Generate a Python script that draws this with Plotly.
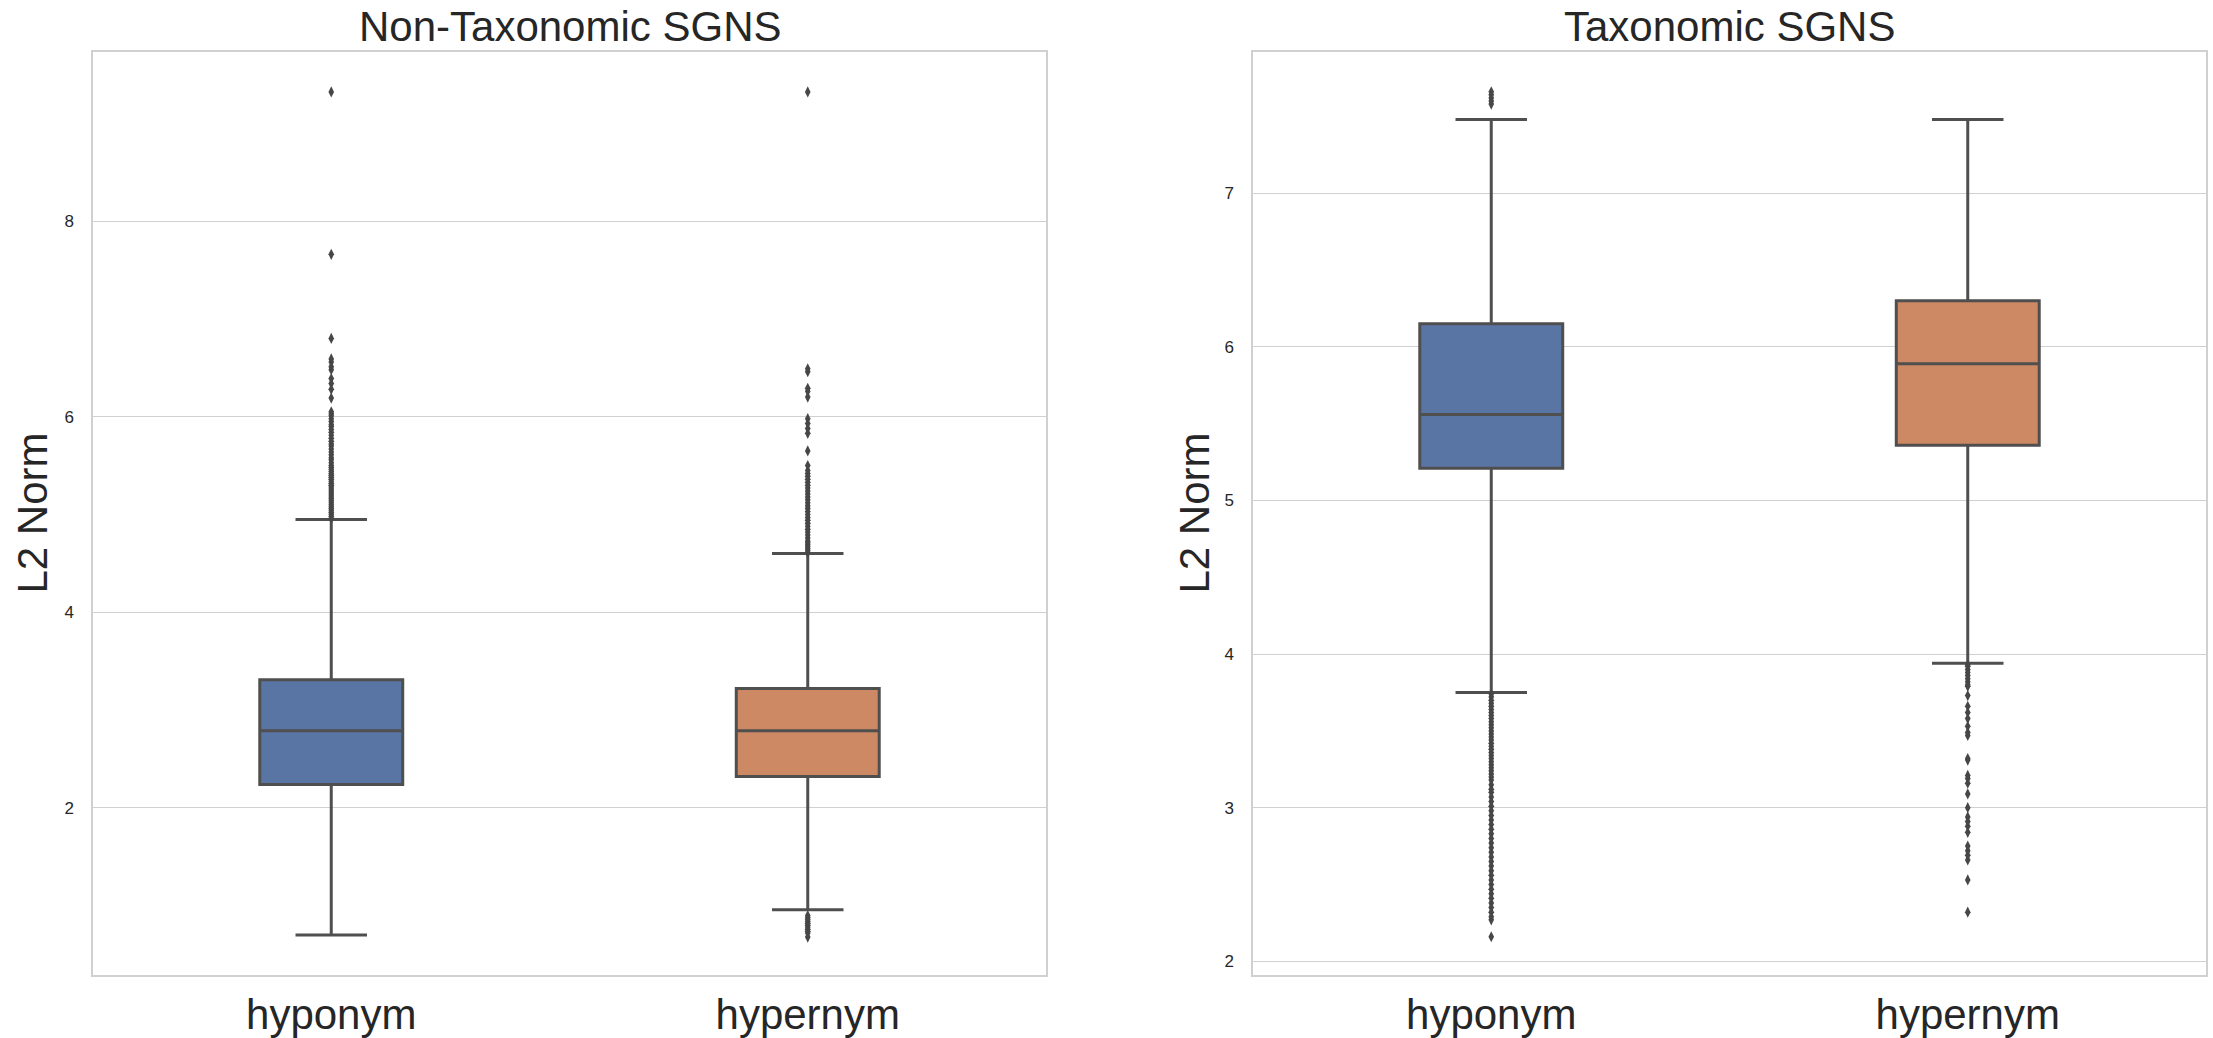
import plotly.graph_objects as go

# ---------------- data ----------------
categories = ["hyponym", "hypernym"]
panel_titles = ["Non-Taxonomic SGNS", "Taxonomic SGNS"]
y_label = "L2 Norm"

# Non-Taxonomic SGNS box statistics [hyponym, hypernym]
nt_q1 = [2.24, 2.32]
nt_median = [2.79, 2.79]
nt_q3 = [3.31, 3.22]
nt_lower = [0.70, 0.96]
nt_upper = [4.95, 4.60]

# Taxonomic SGNS box statistics [hyponym, hypernym]
tx_q1 = [5.21, 5.36]
tx_median = [5.56, 5.89]
tx_q3 = [6.15, 6.30]
tx_lower = [3.75, 3.94]
tx_upper = [7.48, 7.48]

# outliers (fliers)
nt_hypo_out = [9.32, 7.66, 6.80, 6.59, 6.56, 6.51, 6.48, 6.39, 6.34, 6.28, 6.19,
               6.05, 6.03, 6.01, 5.98, 5.95, 5.92, 5.90, 5.87, 5.84, 5.81, 5.78,
               5.75, 5.72, 5.70, 5.67, 5.64, 5.61, 5.58, 5.56, 5.53, 5.50, 5.48,
               5.46, 5.44, 5.42, 5.40, 5.38, 5.36, 5.34, 5.32, 5.30, 5.28, 5.26,
               5.24, 5.22, 5.20, 5.18, 5.16, 5.14, 5.12, 5.10, 5.08, 5.06, 5.04,
               5.02, 5.00, 4.98, 4.96]
nt_hyper_out = [9.32, 6.49, 6.46, 6.29, 6.26, 6.20, 5.98, 5.93, 5.88, 5.83, 5.65,
                5.50, 5.45, 5.42, 5.39, 5.36, 5.33, 5.30, 5.27, 5.24, 5.21, 5.18,
                5.15, 5.12, 5.09, 5.06, 5.03, 5.00, 4.97, 4.94, 4.91, 4.88, 4.85,
                4.82, 4.79, 4.76, 4.73, 4.71, 4.69, 4.67, 4.65, 4.63, 4.61,
                0.90, 0.88, 0.86, 0.84, 0.82, 0.80, 0.78, 0.76, 0.74, 0.72, 0.68]
tx_hypo_out = [7.58, 7.60, 7.62, 7.64, 7.66,
               3.74, 3.72, 3.70, 3.68, 3.66, 3.64, 3.62, 3.60, 3.58, 3.56, 3.54,
               3.52, 3.50, 3.48, 3.46, 3.44, 3.42, 3.40, 3.38, 3.36, 3.34, 3.32,
               3.30, 3.28, 3.26, 3.24, 3.22, 3.20, 3.18, 3.15, 3.12, 3.10, 3.07,
               3.04, 3.01, 2.98, 2.95, 2.92, 2.89, 2.86, 2.83, 2.80, 2.77, 2.74,
               2.71, 2.68, 2.65, 2.62, 2.59, 2.56, 2.53, 2.50, 2.47, 2.44, 2.41,
               2.38, 2.35, 2.32, 2.29, 2.27, 2.16]
tx_hyper_out = [3.93, 3.92, 3.90, 3.88, 3.86, 3.84, 3.82, 3.80, 3.79, 3.73, 3.66,
                3.62, 3.58, 3.53, 3.49, 3.47, 3.32, 3.31, 3.21, 3.19, 3.16, 3.09,
                3.00, 2.94, 2.91, 2.88, 2.84, 2.75, 2.72, 2.69, 2.66, 2.53, 2.32]

nt_ticks = [2, 4, 6, 8]
tx_ticks = [2, 3, 4, 5, 6, 7]
nt_range = [0.29, 9.73]
tx_range = [1.91, 7.92]

# ---------------- style ----------------
W, H = 2213, 1038
fills = ["#5975a4", "#cc8963"]
edge = "#4f4f4f"
grid = "#d0d0d0"
text_col = "#262626"
font_family = "Liberation Sans, Arial, sans-serif"

dom_x = [[93 / W, 1046 / W], [1253 / W, 2206 / W]]
dom_y = [1 - 978 / H, 1 - 52 / H]

fig = go.Figure()

panels = [
    (nt_q1, nt_median, nt_q3, nt_lower, nt_upper, [nt_hypo_out, nt_hyper_out], "x", "y"),
    (tx_q1, tx_median, tx_q3, tx_lower, tx_upper, [tx_hypo_out, tx_hyper_out], "x2", "y2"),
]

for q1, med, q3, lo, up, outs, xa, ya in panels:
    for i, cat in enumerate(categories):
        fig.add_trace(go.Box(
            x=[cat], q1=[q1[i]], median=[med[i]], q3=[q3[i]],
            lowerfence=[lo[i]], upperfence=[up[i]],
            width=0.3, whiskerwidth=0.5,
            fillcolor=fills[i], line=dict(color=edge, width=3),
            boxpoints=False, showlegend=False, hoverinfo="y",
            xaxis=xa, yaxis=ya,
        ))
        fig.add_trace(go.Scatter(
            x=[cat] * len(outs[i]), y=outs[i], mode="markers",
            marker=dict(symbol="diamond-tall", size=8, color="#474747",
                        line=dict(width=0)),
            showlegend=False, xaxis=xa, yaxis=ya,
        ))

axis_common = dict(showline=True, mirror=True, linecolor=grid, linewidth=1.5)

fig.update_layout(
    width=W, height=H,
    margin=dict(l=0, r=0, t=0, b=0),
    paper_bgcolor="white", plot_bgcolor="white",
    font=dict(family=font_family, color=text_col),
    xaxis=dict(domain=dom_x[0], anchor="y", type="category",
               categoryorder="array", categoryarray=categories,
               range=[-0.5, 1.5], showgrid=False, ticks="",
               tickfont=dict(size=42, color=text_col), ticklabelstandoff=2,
               **axis_common),
    yaxis=dict(domain=dom_y, anchor="x", range=nt_range, tickvals=nt_ticks,
               showgrid=True, gridcolor=grid, gridwidth=1.3, zeroline=False,
               ticks="", tickfont=dict(size=17, color=text_col),
               ticklabelstandoff=14, **axis_common),
    xaxis2=dict(domain=dom_x[1], anchor="y2", type="category",
                categoryorder="array", categoryarray=categories,
                range=[-0.5, 1.5], showgrid=False, ticks="",
                tickfont=dict(size=42, color=text_col), ticklabelstandoff=2,
                **axis_common),
    yaxis2=dict(domain=dom_y, anchor="x2", range=tx_range, tickvals=tx_ticks,
                showgrid=True, gridcolor=grid, gridwidth=1.3, zeroline=False,
                ticks="", tickfont=dict(size=17, color=text_col),
                ticklabelstandoff=14, **axis_common),
)

# panel titles and y-axis labels
for k in range(2):
    cx = (dom_x[k][0] + dom_x[k][1]) / 2
    fig.add_annotation(text=panel_titles[k], xref="paper", yref="paper",
                       x=cx, y=dom_y[1], xanchor="center", yanchor="bottom",
                       yshift=0, showarrow=False,
                       font=dict(size=42, color=text_col))
lab_x = [33 / W, 1195 / W]
for k in range(2):
    fig.add_annotation(text=y_label, xref="paper", yref="paper",
                       x=lab_x[k], y=(dom_y[0] + dom_y[1]) / 2,
                       xanchor="center", yanchor="middle", textangle=-90,
                       showarrow=False, font=dict(size=42, color=text_col))

fig.write_html("out.html",
               config={"displayModeBar": False},
               post_script="document.body.style.margin='0';"
                           "document.body.style.overflow='hidden';")
